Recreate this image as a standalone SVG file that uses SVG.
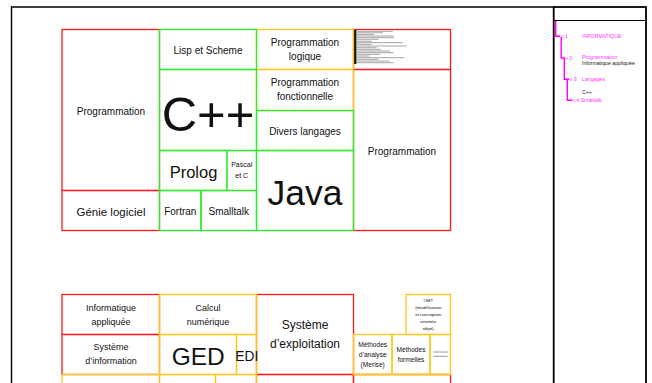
<svg xmlns="http://www.w3.org/2000/svg" width="652" height="383" viewBox="0 0 652 383">
<style>
.r{fill:none;stroke:#ff1a1a;stroke-width:1.3}
.g{fill:none;stroke:#22f022;stroke-width:1.3}
.o{fill:none;stroke:#ffc61a;stroke-width:1.3}
.t{font-family:"Liberation Sans",Arial,sans-serif;fill:#111;text-anchor:middle}
.s{font-family:"Liberation Sans",Arial,sans-serif;font-size:5.2px}
.m{fill:#ff33ff}
.k{fill:#222}
.ln{stroke:#ff00ff;stroke-width:1.4;fill:none}
.gl{stroke:#9a9a9a;stroke-width:0.9}
</style>
<rect width="652" height="383" fill="#fff"/>
<g id="frame" fill="none" stroke="#000">
<line x1="11" y1="7" x2="553" y2="7" stroke-width="1.6"/>
<line x1="11.5" y1="6.5" x2="11.5" y2="383" stroke-width="1.4"/>
<rect x="553.7" y="7" width="92.3" height="390" stroke-width="1.8"/>
<line x1="553.7" y1="20.5" x2="646" y2="20.5" stroke-width="1.2"/>
</g>

<!-- Top treemap: red layer -->
<g id="n-programmation-left"><rect class="r" x="62" y="29.5" width="97.5" height="161"/><text class="t" x="111" y="114.5" font-size="10">Programmation</text></g>
<g id="n-genie-logiciel"><rect class="r" x="62" y="190.5" width="97.5" height="40"/><text class="t" x="111" y="216" font-size="11.5">Génie logiciel</text></g>
<g id="n-dense"><rect class="r" x="353.5" y="29.5" width="97" height="40"/>
<rect x="353.8" y="30" width="2.6" height="34" fill="#111"/>
<g class="gl">
<line x1="357" y1="31.3" x2="392.7" y2="31.3"/><line x1="357" y1="32.8" x2="383" y2="32.8"/><line x1="357" y1="34.4" x2="374" y2="34.4"/><line x1="357" y1="36" x2="393.3" y2="36"/><line x1="357" y1="37.7" x2="394" y2="37.7"/><line x1="357" y1="39.3" x2="378.3" y2="39.3"/><line x1="357" y1="41.2" x2="371.7" y2="41.2"/><line x1="357" y1="42.7" x2="402.7" y2="42.7"/><line x1="357" y1="44.3" x2="371.7" y2="44.3"/><line x1="357" y1="46" x2="406.7" y2="46"/><line x1="357" y1="47.7" x2="376.7" y2="47.7"/><line x1="357" y1="49.3" x2="380.7" y2="49.3"/><line x1="357" y1="51" x2="390" y2="51"/><line x1="357" y1="52.7" x2="393.3" y2="52.7"/><line x1="357" y1="54.3" x2="380" y2="54.3"/><line x1="357" y1="56" x2="369.3" y2="56"/><line x1="357" y1="57.7" x2="404.3" y2="57.7"/><line x1="357" y1="59.3" x2="378.3" y2="59.3"/><line x1="357" y1="61" x2="389.3" y2="61"/><line x1="357" y1="62.7" x2="393.3" y2="62.7"/>
</g></g>
<g id="n-programmation-right"><rect class="r" x="353.5" y="69.5" width="97" height="161"/><text class="t" x="402" y="154.5" font-size="10">Programmation</text></g>

<!-- orange layer -->
<g id="n-prog-logique"><rect class="o" x="256.5" y="29.5" width="97" height="40"/><text class="t" x="305" y="46" font-size="10">Programmation</text><text class="t" x="305" y="59.5" font-size="10">logique</text></g>
<g id="n-prog-fonctionnelle"><rect class="o" x="256.5" y="69.5" width="97" height="41"/><text class="t" x="305" y="86" font-size="10">Programmation</text><text class="t" x="305" y="100" font-size="10">fonctionnelle</text></g>

<!-- green layer -->
<g id="n-lisp"><rect class="g" x="159.5" y="29.5" width="97" height="40"/><text class="t" x="208" y="54" font-size="10">Lisp et Scheme</text></g>
<g id="n-cpp"><rect class="g" x="159.5" y="69.5" width="97" height="81"/><text class="t" x="208" y="130.5" font-size="49">C++</text></g>
<g id="n-prolog"><rect class="g" x="159.5" y="150.5" width="67.5" height="40"/><text class="t" x="193.5" y="178.3" font-size="16.5">Prolog</text></g>
<g id="n-pascal"><rect class="g" x="227" y="150.5" width="29.5" height="40" stroke-opacity="0.6"/><text class="t" x="241.7" y="166.7" font-size="7">Pascal</text><text class="t" x="241.7" y="178.2" font-size="7">et C</text></g>
<g id="n-fortran"><rect class="g" x="159.5" y="190.5" width="41.5" height="40"/><text class="t" x="180.3" y="214.5" font-size="10">Fortran</text></g>
<g id="n-smalltalk"><rect class="g" x="201" y="190.5" width="55.5" height="40"/><text class="t" x="228.8" y="214.5" font-size="10">Smalltalk</text></g>
<g id="n-divers"><rect class="g" x="256.5" y="110.5" width="97" height="40"/><text class="t" x="305" y="135" font-size="10">Divers langages</text></g>
<g id="n-java"><rect class="g" x="256.5" y="150.5" width="97" height="80"/><text class="t" x="305" y="205" font-size="35.5">Java</text></g>

<!-- Bottom treemap: red layer -->
<g id="n-info-appliquee"><rect class="r" x="62" y="294.5" width="97.5" height="40"/><text class="t" x="111" y="310.8" font-size="9">Informatique</text><text class="t" x="111" y="324.8" font-size="9">appliquée</text></g>
<g id="n-systeme-info"><rect class="r" x="62" y="334.5" width="97.5" height="40"/><text class="t" x="111" y="350.4" font-size="9">Système</text><text class="t" x="111" y="364.4" font-size="9">d’information</text></g>
<g id="n-systeme-exploitation"><rect class="r" x="256.5" y="294.5" width="97" height="80"/><text class="t" x="305" y="329.2" font-size="12">Système</text><text class="t" x="305" y="347.5" font-size="12">d’exploitation</text></g>
<g id="n-bottom-red-a"><rect class="r" x="256.5" y="374.5" width="97" height="30"/></g>
<g id="n-bottom-red-b"><rect class="r" x="353.5" y="374.5" width="97" height="30"/></g>

<!-- yellow layer -->
<g id="n-calcul"><rect class="o" x="159.5" y="294.5" width="97" height="40"/><text class="t" x="208" y="310.8" font-size="9">Calcul</text><text class="t" x="208" y="324.8" font-size="9">numérique</text></g>
<g id="n-ged"><rect class="o" x="159.5" y="334.5" width="77" height="40"/><text class="t" x="198.2" y="364.5" font-size="24.5">GED</text></g>
<g id="n-edi"><rect class="o" x="236.5" y="334.5" width="20" height="40"/><text class="t" x="246.8" y="360.8" font-size="13.8">EDI</text></g>
<g id="n-omt"><rect class="o" x="406" y="294.5" width="44.5" height="40"/>
<text class="t" font-size="4.4" fill="#333"><tspan x="428.3" y="302.3">OMT</tspan><tspan x="428.3" y="309.1">(modélisation</tspan><tspan x="428.3" y="315.9">et conception</tspan><tspan x="428.3" y="322.7">orientée</tspan><tspan x="428.3" y="329.5">objet)</tspan></text></g>
<g id="n-methodes-analyse"><rect class="o" x="353.5" y="334.5" width="38.5" height="40"/><text class="t" x="372.7" y="346.7" font-size="6.6">Méthodes</text><text class="t" x="372.7" y="356.7" font-size="6.6">d’analyse</text><text class="t" x="372.7" y="366.7" font-size="6.6">(Merise)</text></g>
<g id="n-methodes-formelles"><rect class="o" x="392" y="334.5" width="38" height="40"/><text class="t" x="411" y="351.7" font-size="6.6">Méthodes</text><text class="t" x="411" y="362" font-size="6.6">formelles</text></g>
<g id="n-small"><rect class="o" x="430" y="334.5" width="20.5" height="40"/><line x1="433.3" y1="352" x2="447.7" y2="352" stroke="#999" stroke-width="1"/><line x1="433.3" y1="356.3" x2="447.7" y2="356.3" stroke="#999" stroke-width="1"/></g>
<g id="n-bottom-y1"><rect class="o" x="62" y="374.5" width="97.5" height="30"/></g>
<g id="n-bottom-y2"><rect class="o" x="159.5" y="374.5" width="56" height="30"/></g>
<g id="n-bottom-y3"><rect class="o" x="215.5" y="374.5" width="41" height="30"/></g>
<line class="o" x1="353.5" y1="374.5" x2="450.5" y2="374.5"/>

<!-- Right panel tree -->
<g id="connectors">
<path class="ln" d="M555.7 21 V36.3 H560"/>
<path class="ln" d="M561.2 37 V58 H565"/>
<path class="ln" d="M564.3 59 V79.3 H569"/>
<path class="ln" d="M567.3 80 V100.3 H572"/>
</g>
<g id="t-n1"><text class="s m" x="560.7" y="38">n 1</text><text class="s m" x="582" y="38">INFORMATIQUE</text></g>
<g id="t-n2"><text class="s m" x="565" y="60.2">n 2</text><text class="s m" x="582" y="59.2">Programmation</text><text class="s k" x="582" y="65">Informatique appliquée</text></g>
<g id="t-n3"><text class="s m" x="569.5" y="80.8">n 3</text><text class="s m" x="582" y="80.8">Langages</text></g>
<g id="t-n4"><text class="s k" x="582" y="94.2">C++</text><text class="s m" x="572" y="101.6">n 4 Smalltalk</text></g>
</svg>
